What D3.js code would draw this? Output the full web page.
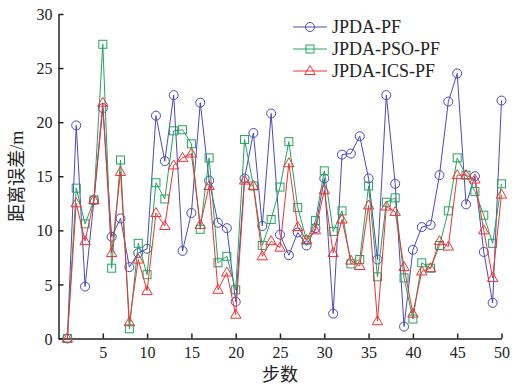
<!DOCTYPE html>
<html>
<head>
<meta charset="utf-8">
<script src="https://cdn.jsdelivr.net/npm/d3@7"></script>
<style>
  body { margin: 0; background: #fff; }
  text { font-family: "Liberation Serif", "Times New Roman", serif; fill: #222; }
</style>
</head>
<body>
<script>
// data
const steps = d3.range(1, 51);
const jpdaPF = [0, 19.7, 4.8, 12.8, 21.3, 9.4, 11.1, 6.6, 7.9, 8.3,
  20.6, 16.4, 22.5, 8.1, 11.6, 21.8, 14.6, 10.7, 10.2, 3.4,
  14.8, 19.0, 10.4, 20.8, 9.6, 7.7, 9.8, 8.6, 10.2, 14.8,
  2.3, 17.0, 17.1, 18.7, 14.8, 7.3, 22.5, 14.3, 1.1, 8.2,
  10.3, 10.5, 15.1, 21.9, 24.5, 12.4, 15.0, 8.0, 3.3, 22.0];
const jpdaPSO = [0, 13.9, 10.6, 12.8, 27.2, 6.5, 16.5, 0.9, 8.8, 5.9,
  14.4, 12.9, 19.2, 19.3, 18.0, 10.1, 16.7, 7.0, 7.6, 4.5,
  18.4, 14.1, 8.6, 11.0, 14.0, 18.2, 12.1, 9.1, 10.9, 15.5,
  9.9, 11.8, 6.9, 7.3, 14.1, 5.7, 12.6, 13.0, 5.6, 1.8,
  7.0, 6.5, 8.6, 11.8, 16.7, 15.1, 13.6, 11.4, 8.8, 14.3];
const jpdaICS = [0, 12.5, 9.0, 12.8, 21.8, 7.9, 15.4, 1.5, 7.3, 4.4,
  11.6, 10.4, 16.0, 16.7, 17.1, 10.5, 14.1, 4.5, 6.1, 2.2,
  14.6, 14.1, 7.6, 9.0, 8.4, 16.2, 10.3, 9.1, 10.0, 13.7,
  7.9, 11.0, 7.2, 6.7, 12.3, 1.6, 12.2, 11.7, 6.6, 2.3,
  6.2, 6.5, 9.0, 8.5, 15.1, 15.1, 14.7, 10.0, 5.6, 13.3];
const seriesNames = ["JPDA-PF", "JPDA-PSO-PF", "JPDA-ICS-PF"];
const colors = ["#4a4ab8", "#22a55e", "#ee3333"];
const symbols = ["circle", "square", "triangle"];
const xTicks = [5, 10, 15, 20, 25, 30, 35, 40, 45, 50];
const yTicks = [0, 5, 10, 15, 20, 25, 30];

const width = 523, height = 388;
const margin = { left: 58.5, right: 21.5, top: 14, bottom: 49.5 };

const svg = d3.select("body").append("svg")
  .attr("width", width)
  .attr("height", height);

const x = d3.scaleLinear().domain([0, 50]).range([margin.left, width - margin.right]);
const y = d3.scaleLinear().domain([0, 30]).range([height - margin.bottom, margin.top]);

// axes, ticks pointing inward
const xAxis = svg.append("g")
  .attr("transform", `translate(0,${y(0)})`)
  .call(d3.axisBottom(x).tickValues(xTicks).tickSizeInner(-5).tickSizeOuter(0).tickPadding(8));
const yAxis = svg.append("g")
  .attr("transform", `translate(${x(0)},0)`)
  .call(d3.axisLeft(y).tickValues(yTicks).tickSizeInner(-5).tickSizeOuter(0).tickPadding(6));

[xAxis, yAxis].forEach(g => {
  g.select(".domain").attr("stroke", "#222").attr("stroke-width", 1.5);
  g.selectAll(".tick line").attr("stroke", "#222").attr("stroke-width", 1.5);
  g.selectAll(".tick text")
    .style("font-family", "'Liberation Serif', serif")
    .style("font-size", "16px")
    .attr("fill", "#222");
});
yAxis.selectAll(".tick text").attr("dy", "0.35em");

// axis titles
svg.append("text")
  .attr("x", 280).attr("y", 381)
  .attr("text-anchor", "middle")
  .style("font-family", "'Noto Sans CJK SC', sans-serif")
  .style("font-size", "18px")
  .text("步数");
const yTitle = svg.append("text")
  .attr("transform", `translate(23,${(y(0) + y(30)) / 2}) rotate(-90)`)
  .attr("text-anchor", "middle")
  .style("font-family", "'Noto Sans CJK SC', sans-serif")
  .style("font-size", "18px");
yTitle.append("tspan").text("距离误差");
yTitle.append("tspan").style("font-family", "'Liberation Serif', serif").text("/m");

const allSeries = [jpdaPF, jpdaPSO, jpdaICS];

function drawMarker(g, kind, color) {
  if (kind === "circle") {
    g.append("circle").attr("r", 4.5).attr("fill", "none").attr("stroke", color).attr("stroke-width", 1);
  } else if (kind === "square") {
    g.append("rect").attr("x", -4).attr("y", -4).attr("width", 8).attr("height", 8)
      .attr("fill", "none").attr("stroke", color).attr("stroke-width", 1);
  } else {
    g.append("path").attr("d", "M0,-5.5L5.2,3.5L-5.2,3.5Z")
      .attr("fill", "none").attr("stroke", color).attr("stroke-width", 1);
  }
}

const line = d3.line().x((d, i) => x(steps[i])).y(d => y(d));

allSeries.forEach((vals, k) => {
  svg.append("path")
    .datum(vals)
    .attr("fill", "none")
    .attr("stroke", colors[k])
    .attr("stroke-width", 1)
    .attr("d", line);
  svg.append("g").selectAll("g")
    .data(vals)
    .join("g")
    .attr("transform", (d, i) => `translate(${x(steps[i])},${y(d)})`)
    .each(function () { drawMarker(d3.select(this), symbols[k], colors[k]); });
});

// legend
const legend = svg.append("g").attr("transform", "translate(293,27)");
seriesNames.forEach((name, k) => {
  const row = legend.append("g").attr("transform", `translate(0,${k * 22})`);
  row.append("line").attr("x1", 0).attr("x2", 34).attr("y1", 0).attr("y2", 0)
    .attr("stroke", colors[k]).attr("stroke-width", 1);
  const m = row.append("g").attr("transform", "translate(17,0)");
  drawMarker(m, symbols[k], colors[k]);
  row.append("text").attr("x", 39).attr("y", 0).attr("dy", "0.35em")
    .style("font-size", "18px")
    .text(name);
});
</script>
</body>
</html>
